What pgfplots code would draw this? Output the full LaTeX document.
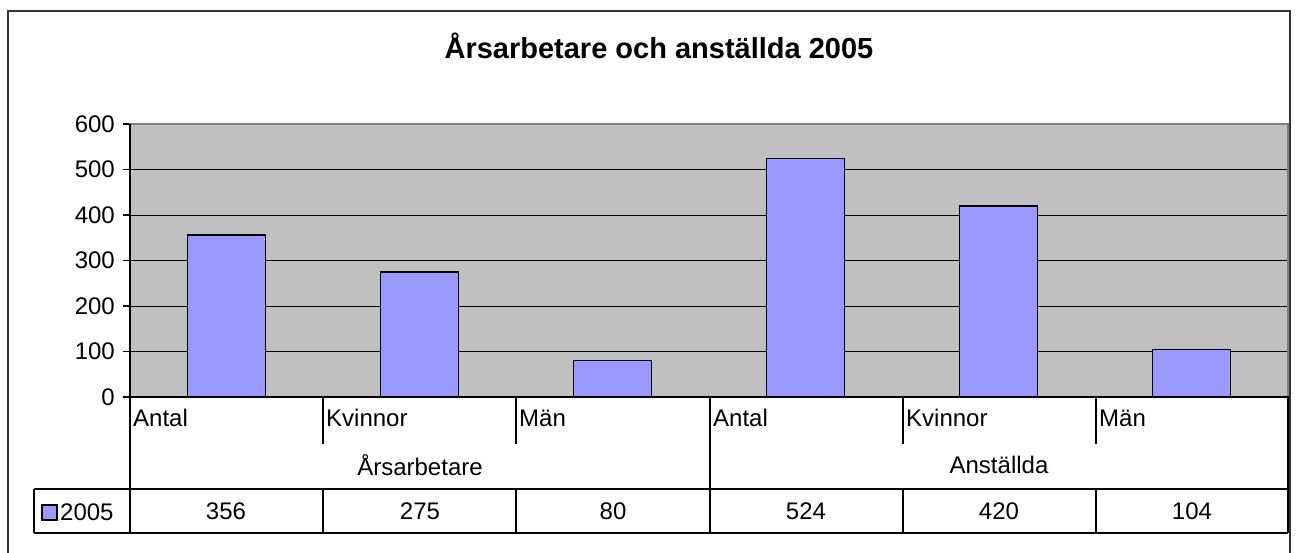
\documentclass[border=0pt]{standalone}
\usepackage{fontspec}
\setmainfont{Liberation Sans}
\usepackage{pgfplots}
\pgfplotsset{compat=1.18}
\definecolor{barfill}{HTML}{9999FF}
\definecolor{plotbg}{HTML}{C0C0C0}
\begin{document}
\fontsize{24bp}{28bp}\selectfont
\begin{tikzpicture}
\begin{axis}[at={(130bp,-397bp)},anchor=south west,scale only axis,
 width=1158bp,height=273bp,xmin=0,xmax=6,ymin=0,ymax=600,
 ytick={0,100,...,600},xtick=\empty,ytick pos=left,ymajorgrids=true,
 grid style={black,line width=1bp},
 axis background/.style={fill=plotbg},
 axis line style={draw=black!50,line width=1.5bp},
 y tick style={black,line width=1.2bp},tick align=outside,major tick length=7bp,
 /pgf/number format/assume math mode=true,
 yticklabel style={font=\fontsize{24bp}{28bp}\selectfont},
 ybar,bar width=78bp]
\addplot[fill=barfill,draw=black,line width=1.4bp] coordinates {(0.5,356) (1.5,275) (2.5,80) (3.5,524) (4.5,420) (5.5,104)};
\end{axis}
\begin{scope}[x=1bp,y=-1bp]
\useasboundingbox (0,0) rectangle (1298,553);
\draw[line width=1.5bp,black!80] (8,560) -- (8,11) -- (1290,11) -- (1290,560);
\node[font=\fontsize{29bp}{34bp}\selectfont\bfseries] at (659,46) {Årsarbetare och anställda 2005};
\draw[line width=1.5bp] (130,124) -- (130,533) (130,397) -- (1288,397) -- (1288,533)
 (710,397) -- (710,533) (34,489) -- (1288,489) (34,533) -- (1288,533) (34,489) -- (34,533);
\foreach \x in {323,516,903,1096} {\draw[line width=1.5bp] (\x,397) -- (\x,444) (\x,489) -- (\x,533);}
\foreach \x/\t in {130/Antal,323/Kvinnor,516/Män,710/Antal,903/Kvinnor,1096/Män}
 {\node[anchor=west,inner sep=0pt] at (\x+3,418) {\t};}
\node at (420,465) {Årsarbetare};
\node at (999,465) {Anställda};
\foreach \x/\t in {226/356,420/275,613/80,806/524,999/420,1192/104}
 {\node at (\x,511) {\t};}
\draw[fill=barfill,line width=1.2bp] (42,505) rectangle (57,520);
\node[anchor=west,inner sep=0pt] at (60,512) {2005};
\end{scope}
\end{tikzpicture}
\end{document}
